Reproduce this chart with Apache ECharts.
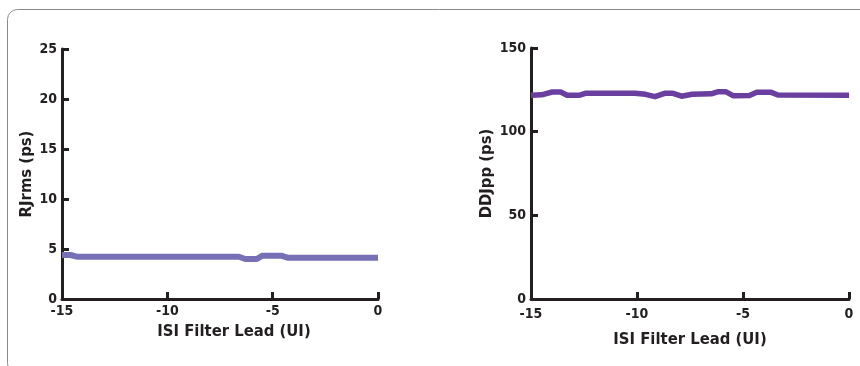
<!DOCTYPE html>
<html>
<head>
<meta charset="utf-8">
<script src="https://cdn.jsdelivr.net/npm/echarts@6/dist/echarts.min.js"></script>
<style>
html,body{margin:0;padding:0;background:#fff;}
#c{width:860px;height:366px;}
</style>
</head>
<body>
<div id="c"></div>
<script>
// X ticks (ISI Filter Lead, UI)
var xTicks = [-15, -10, -5, 0];
// Left panel: RJrms (ps)
var rjX = [-15, -14.6, -14.3, -6.6, -6.3, -5.75, -5.5, -4.6, -4.3, 0];
var rjY = [4.4, 4.4, 4.23, 4.23, 4.0, 4.0, 4.33, 4.33, 4.13, 4.13];
// Right panel: DDJpp (ps)
var ddX = [-15, -14.5, -14, -13.6, -13.3, -12.7, -12.4, -10.1, -9.6, -9.15, -8.7, -8.3, -7.9, -7.4, -6.5, -6.2, -5.8, -5.45, -4.7, -4.35, -3.7, -3.35, 0];
var ddY = [121.8, 122.0, 123.7, 123.7, 121.8, 121.8, 123.0, 122.9, 122.3, 120.9, 122.9, 122.9, 121.2, 122.4, 122.6, 123.8, 123.8, 121.4, 121.6, 123.6, 123.6, 121.9, 121.7];

var axisColor = '#231f20';
var tickFont = {fontFamily: '"DejaVu Sans Condensed", "DejaVu Sans", sans-serif', fontWeight: 'bold', fontSize: 14, color: axisColor};
var titleFont = {fontFamily: '"DejaVu Sans Condensed", "DejaVu Sans", sans-serif', fontWeight: 'bold', fontSize: 16.5, color: axisColor};

function pairs(xs, ys){ return xs.map(function(x,i){ return [x, ys[i]]; }); }

function xAxis(gi, gap, pad, margin){
  return {
    type: 'value', gridIndex: gi, min: xTicks[0], max: xTicks[xTicks.length-1], interval: 5,
    name: 'ISI Filter Lead (UI)', nameLocation: 'middle', nameGap: gap,
    nameTextStyle: Object.assign({padding: pad}, titleFont),
    axisLine: {show: true, onZero: false, lineStyle: {color: axisColor, width: 3}},
    axisTick: {show: true, inside: true, length: 7, lineStyle: {color: axisColor, width: 3}},
    axisLabel: Object.assign({margin: margin}, tickFont),
    splitLine: {show: false}
  };
}
function yAxis(gi, name, max, interval, gap){
  return {
    type: 'value', gridIndex: gi, min: 0, max: max, interval: interval,
    name: name, nameLocation: 'middle', nameGap: gap, nameRotate: 90,
    nameTextStyle: titleFont,
    axisLine: {show: true, onZero: false, lineStyle: {color: axisColor, width: 3}},
    axisTick: {show: true, inside: true, length: 7, lineStyle: {color: axisColor, width: 3}},
    axisLabel: Object.assign({margin: 5}, tickFont),
    splitLine: {show: false}
  };
}

var chart = echarts.init(document.getElementById('c'), null, {renderer: 'canvas'});
chart.setOption({
  animation: false,
  graphic: [{
    type: 'rect', shape: {x: 7.5, y: 9.5, width: 1000, height: 364, r: 10},
    style: {fill: 'none', stroke: '#8a8a8a', lineWidth: 1}, z: 0
  }],
  grid: [
    {left: 62, right: 482, top: 49, bottom: 67},
    {left: 531, right: 11, top: 48, bottom: 67}
  ],
  xAxis: [xAxis(0, 22, [0,0,0,28], 5), xAxis(1, 32, 0, 8)],
  yAxis: [yAxis(0, 'RJrms (ps)', 25, 5, 25), yAxis(1, 'DDJpp (ps)', 150, 50, 36)],
  series: [
    {type: 'line', xAxisIndex: 0, yAxisIndex: 0, data: pairs(rjX, rjY), showSymbol: false, symbol: 'none',
     lineStyle: {color: '#7870b6', width: 6, cap: 'butt', join: 'round'}},
    {type: 'line', xAxisIndex: 1, yAxisIndex: 1, data: pairs(ddX, ddY), showSymbol: false, symbol: 'none',
     lineStyle: {color: '#6a3f9f', width: 5.5, cap: 'butt', join: 'round'}}
  ]
});
</script>
</body>
</html>
